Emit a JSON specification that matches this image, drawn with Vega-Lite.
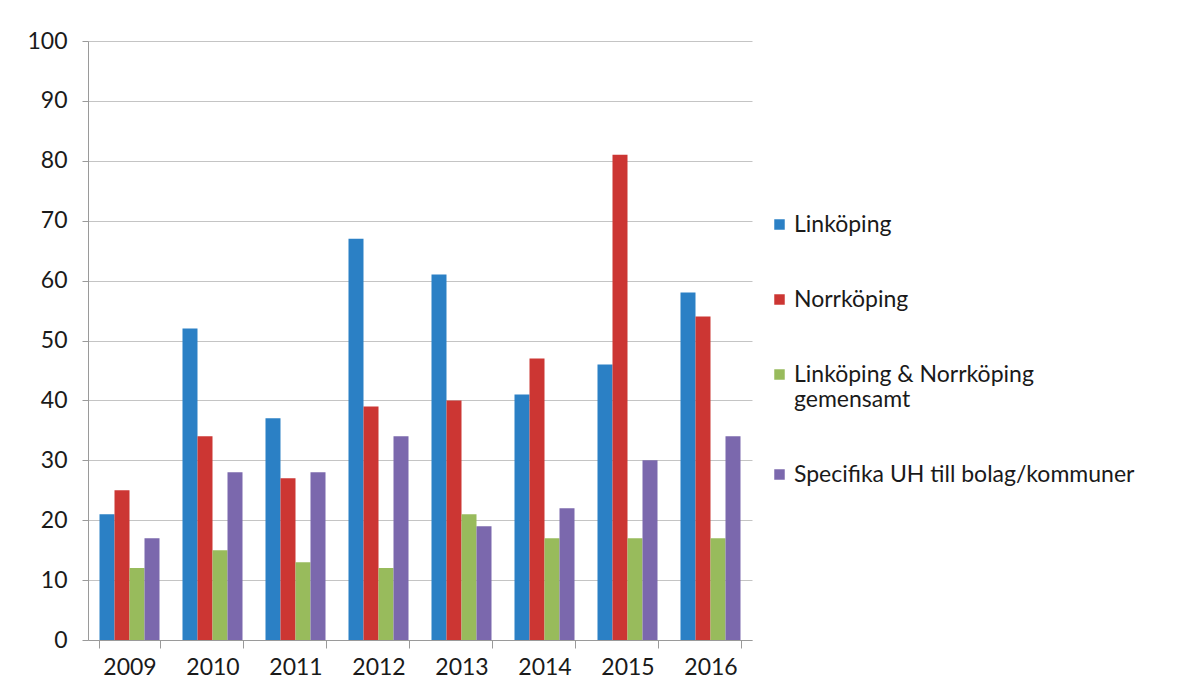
{
  "$schema": "https://vega.github.io/schema/vega-lite/v6.json",
  "autosize": "none",
  "width": 664,
  "height": 599,
  "padding": {"left": 88, "top": 41, "right": 437, "bottom": 59},
  "background": "white",
  "data": {
    "values": [
      {"year": "2009", "serie": "Linköping", "value": 21},
      {"year": "2009", "serie": "Norrköping", "value": 25},
      {"year": "2009", "serie": "Linköping & Norrköping gemensamt", "value": 12},
      {"year": "2009", "serie": "Specifika UH till bolag/kommuner", "value": 17},
      {"year": "2010", "serie": "Linköping", "value": 52},
      {"year": "2010", "serie": "Norrköping", "value": 34},
      {"year": "2010", "serie": "Linköping & Norrköping gemensamt", "value": 15},
      {"year": "2010", "serie": "Specifika UH till bolag/kommuner", "value": 28},
      {"year": "2011", "serie": "Linköping", "value": 37},
      {"year": "2011", "serie": "Norrköping", "value": 27},
      {"year": "2011", "serie": "Linköping & Norrköping gemensamt", "value": 13},
      {"year": "2011", "serie": "Specifika UH till bolag/kommuner", "value": 28},
      {"year": "2012", "serie": "Linköping", "value": 67},
      {"year": "2012", "serie": "Norrköping", "value": 39},
      {"year": "2012", "serie": "Linköping & Norrköping gemensamt", "value": 12},
      {"year": "2012", "serie": "Specifika UH till bolag/kommuner", "value": 34},
      {"year": "2013", "serie": "Linköping", "value": 61},
      {"year": "2013", "serie": "Norrköping", "value": 40},
      {"year": "2013", "serie": "Linköping & Norrköping gemensamt", "value": 21},
      {"year": "2013", "serie": "Specifika UH till bolag/kommuner", "value": 19},
      {"year": "2014", "serie": "Linköping", "value": 41},
      {"year": "2014", "serie": "Norrköping", "value": 47},
      {"year": "2014", "serie": "Linköping & Norrköping gemensamt", "value": 17},
      {"year": "2014", "serie": "Specifika UH till bolag/kommuner", "value": 22},
      {"year": "2015", "serie": "Linköping", "value": 46},
      {"year": "2015", "serie": "Norrköping", "value": 81},
      {"year": "2015", "serie": "Linköping & Norrköping gemensamt", "value": 17},
      {"year": "2015", "serie": "Specifika UH till bolag/kommuner", "value": 30},
      {"year": "2016", "serie": "Linköping", "value": 58},
      {"year": "2016", "serie": "Norrköping", "value": 54},
      {"year": "2016", "serie": "Linköping & Norrköping gemensamt", "value": 17},
      {"year": "2016", "serie": "Specifika UH till bolag/kommuner", "value": 34}
    ]
  },
  "mark": {"type": "bar", "opacity": 1},
  "encoding": {
    "x": {
      "field": "year",
      "type": "nominal",
      "title": null,
      "scale": {"paddingInner": 0.277, "paddingOuter": 0.1385},
      "axis": {
        "labelAngle": 0,
        "labelFont": "Lato",
        "labelFontSize": 23,
        "labelColor": "#1a1a1a",
        "labelPadding": 8,
        "tickBand": "extent",
        "tickSize": 8,
        "tickColor": "#9a9a9a",
        "domainColor": "#9a9a9a",
        "grid": false
      }
    },
    "xOffset": {
      "field": "serie",
      "type": "nominal",
      "sort": ["Linköping", "Norrköping", "Linköping & Norrköping gemensamt", "Specifika UH till bolag/kommuner"],
      "scale": {"paddingInner": 0, "paddingOuter": 0}
    },
    "y": {
      "field": "value",
      "type": "quantitative",
      "title": null,
      "scale": {"domain": [0, 100], "nice": false},
      "axis": {
        "values": [0, 10, 20, 30, 40, 50, 60, 70, 80, 90, 100],
        "labelFont": "Lato",
        "labelFontSize": 23,
        "labelColor": "#1a1a1a",
        "labelPadding": 15,
        "tickSize": 6,
        "tickColor": "#9a9a9a",
        "domainColor": "#9a9a9a",
        "gridColor": "#c4c4c4",
        "gridWidth": 1
      }
    },
    "color": {
      "field": "serie",
      "type": "nominal",
      "title": null,
      "sort": ["Linköping", "Norrköping", "Linköping & Norrköping gemensamt", "Specifika UH till bolag/kommuner"],
      "scale": {
        "domain": ["Linköping", "Norrköping", "Linköping & Norrköping gemensamt", "Specifika UH till bolag/kommuner"],
        "range": ["#2b80c5", "#cc3633", "#98bb5c", "#7b68ad"]
      },
      "legend": {
        "orient": "none",
        "legendX": 680,
        "legendY": 172,
        "symbolType": "square",
        "symbolSize": 110,
        "symbolStrokeWidth": 0,
        "labelFont": "Lato",
        "labelFontSize": 23,
        "labelColor": "#1a1a1a",
        "labelLimit": 420,
        "labelOffset": 3,
        "labelBaseline": "middle",
        "rowPadding": 51,
        "labelExpr": "datum.label == 'Linköping & Norrköping gemensamt' ? ['Linköping & Norrköping', 'gemensamt'] : datum.label"
      }
    }
  },
  "config": {
    "view": {"stroke": null},
    "font": "Lato"
  }
}
